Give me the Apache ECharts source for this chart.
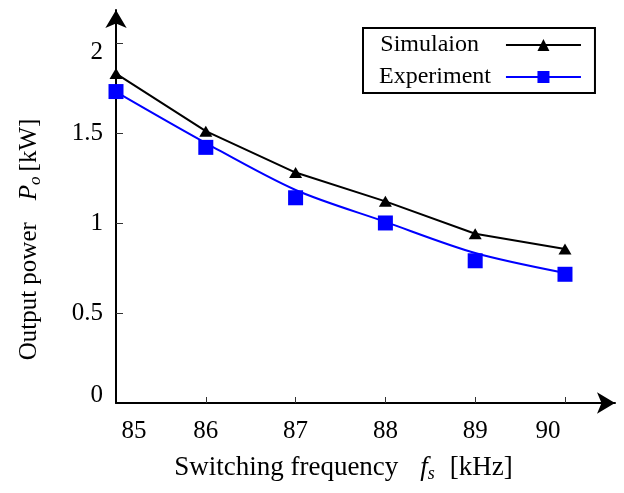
<!DOCTYPE html>
<html>
<head>
<meta charset="utf-8">
<script src="https://cdn.jsdelivr.net/npm/echarts@6/dist/echarts.min.js"></script>
<style>html,body{margin:0;padding:0;background:#fff}#c{width:624px;height:493px}</style>
</head>
<body>
<div id="c"></div>
<script>
var frequencies = [85, 86, 87, 88, 89, 90];
var simulation = [1.83, 1.51, 1.28, 1.12, 0.94, 0.855];
var experiment = [1.73, 1.42, 1.14, 1.00, 0.79, 0.715];
var experimentCurve = [1.728, 1.444, 1.183, 1.006, 0.833, 0.722];
var xTickLabels = [85, 86, 87, 88, 89, 90];
var yTickLabels = [0, 0.5, 1, 1.5, 2];

var FONT = '"Liberation Serif", "DejaVu Serif", serif';
var chart = echarts.init(document.getElementById('c'));

function pairs(ys) { return frequencies.map(function (x, i) { return [x, ys[i]]; }); }

chart.setOption({
  animation: false,
  backgroundColor: '#fff',
  grid: { left: 116, right: 9, top: 10, bottom: 90, containLabel: false },
  legend: {
    orient: 'vertical', align: 'right', left: 363, top: 28,
    padding: [5, 13, 4, 16], itemGap: 8, itemWidth: 75, itemHeight: 15,
    borderColor: '#000', borderWidth: 2, backgroundColor: '#fff',
    formatter: function (name) { return name === 'Simulaion' ? '{a|' + name + '}' : '{b|' + name + '}'; },
    textStyle: {
      fontFamily: FONT, fontSize: 24, color: '#000',
      rich: {
        a: { fontFamily: FONT, fontSize: 24, color: '#000', padding: [0, 22, 0, 0] },
        b: { fontFamily: FONT, fontSize: 24, color: '#000', padding: [0, 10, 0, 0] }
      }
    },
    data: ['Simulaion', 'Experiment']
  },
  xAxis: {
    type: 'value', min: 85, max: 90.557,
    name: '{n|Switching frequency}{i|f}{s|s}{k|[kHz]}',
    nameLocation: 'middle', nameGap: 50,
    nameTextStyle: {
      padding: [0, 44, 0, 0],
      rich: {
        n: { fontFamily: FONT, fontSize: 27, color: '#000' },
        i: { fontFamily: FONT, fontSize: 27, fontStyle: 'italic', color: '#000', padding: [0, 0, 0, 22] },
        s: { fontFamily: FONT, fontSize: 18, fontStyle: 'italic', color: '#000', padding: [12, 0, 0, 0] },
        k: { fontFamily: FONT, fontSize: 27, color: '#000', padding: [0, 0, 0, 15] }
      }
    },
    splitLine: { show: false },
    axisLine: { lineStyle: { color: '#000', width: 2 }, symbol: ['none', 'arrow'], symbolSize: [16, 18] },
    axisTick: { inside: true, length: 6, lineStyle: { color: '#333', width: 1 }, customValues: xTickLabels.slice(1) },
    axisLabel: {
      customValues: xTickLabels, margin: 16,
      formatter: function (v) {
        if (v === 85) return '{l|' + v + '}';
        if (v === 90) return '{r|' + v + '}';
        return '{m|' + v + '}';
      },
      rich: {
        m: { fontFamily: FONT, fontSize: 25, color: '#000' },
        l: { fontFamily: FONT, fontSize: 25, color: '#000', padding: [0, 0, 0, 36] },
        r: { fontFamily: FONT, fontSize: 25, color: '#000', padding: [0, 34, 0, 0] }
      }
    }
  },
  yAxis: {
    type: 'value', min: 0, max: 2.183,
    name: '{n|Output power}{i|P}{s|o}{k|[kW]}',
    nameLocation: 'middle', nameGap: 72,
    nameTextStyle: {
      padding: [0, 66, 0, 0],
      rich: {
        n: { fontFamily: FONT, fontSize: 25, color: '#000' },
        i: { fontFamily: FONT, fontSize: 25, fontStyle: 'italic', color: '#000', padding: [0, 0, 0, 22] },
        s: { fontFamily: FONT, fontSize: 17, fontStyle: 'italic', color: '#000', padding: [12, 0, 0, 0] },
        k: { fontFamily: FONT, fontSize: 25, color: '#000', padding: [0, 0, 0, 5] }
      }
    },
    splitLine: { show: false },
    axisLine: { lineStyle: { color: '#000', width: 2 }, symbol: ['none', 'arrow'], symbolSize: [16, 18] },
    axisTick: { inside: true, length: 7, lineStyle: { color: '#333', width: 1 }, customValues: yTickLabels.slice(1) },
    axisLabel: {
      customValues: yTickLabels, margin: 13,
      formatter: function (v) {
        if (v === 2) return '{t|2}';
        if (v === 0) return '{b|0}';
        return '{m|' + v + '}';
      },
      rich: {
        m: { fontFamily: FONT, fontSize: 25, color: '#000' },
        t: { fontFamily: FONT, fontSize: 25, color: '#000', padding: [18, 0, 0, 0] },
        b: { fontFamily: FONT, fontSize: 25, color: '#000', padding: [0, 0, 16, 0] }
      }
    }
  },
  series: [
    {
      name: 'Simulaion', type: 'line', data: pairs(simulation),
      symbol: 'triangle', symbolSize: [13, 11],
      lineStyle: { color: '#000', width: 2 }, itemStyle: { color: '#000' }
    },
    {
      name: 'Experiment', type: 'line', data: pairs(experimentCurve), smooth: 0.3,
      symbol: 'rect', symbolSize: 15, showSymbol: false,
      lineStyle: { color: '#0000ff', width: 2 }, itemStyle: { color: '#0000ff' }
    },
    {
      name: 'Experiment', type: 'scatter', data: pairs(experiment), z: 5,
      symbol: 'rect', symbolSize: 15,
      itemStyle: { color: '#0000ff', opacity: 1 }
    }
  ]
});
</script>
</body>
</html>
